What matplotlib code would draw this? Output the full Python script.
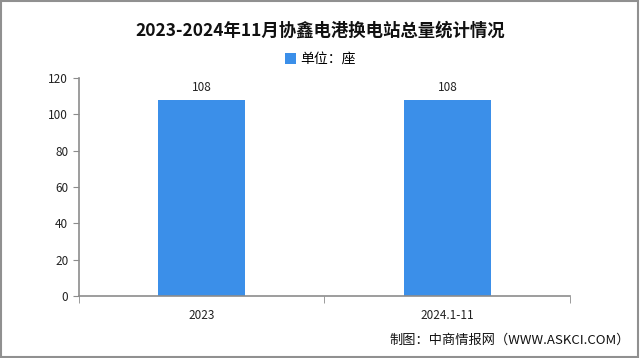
import matplotlib
matplotlib.use("Agg")
import matplotlib.pyplot as plt
from matplotlib.patches import Rectangle

plt.rcParams['font.family'] = ['Noto Sans CJK SC', 'DejaVu Sans']

categories = ['2023', '2024.1-11']
values = [108, 108]
yticks = [0, 20, 40, 60, 80, 100, 120]

title = '2023-2024年11月协鑫电港换电站总量统计情况'
legend_label = '单位：座'
source = '制图：中商情报网（WWW.ASKCI.COM）'

bar_color = '#3b8fe9'
axis_color = '#8c8c8c'

fig = plt.figure(figsize=(6.4, 3.58), dpi=100)
ax = fig.add_axes([0.123, 0.173, 0.768, 0.609])

x = list(range(len(categories)))
bars = ax.bar(x, values, width=0.355, color=bar_color, label=legend_label, zorder=2)
for xi, v in zip(x, values):
    ax.text(xi, v + 3, str(v), ha='center', va='bottom', fontsize=8.5, color='#222222')

ax.set_xlim(-0.5, len(categories) - 0.5)
ax.set_ylim(0, 120)
ax.set_yticks(yticks)
ax.tick_params(axis='y', labelsize=8.5, colors='#222222', length=4, color=axis_color)

# category labels centred, tick marks at the boundaries
ax.set_xticks(x)
ax.set_xticklabels(categories, fontsize=8.5, color='#222222')
ax.tick_params(axis='x', which='major', length=0, pad=9)
ax.set_xticks([i - 0.5 for i in range(len(categories) + 1)], minor=True)
ax.tick_params(axis='x', which='minor', length=5, color=axis_color)

for side in ['top', 'right']:
    ax.spines[side].set_visible(False)
for side in ['left', 'bottom']:
    ax.spines[side].set_color(axis_color)
    ax.spines[side].set_linewidth(1.2)

fig.text(0.5, 0.915, title, ha='center', va='center', fontsize=12.5, fontweight='bold', color='#111111')
fig.legend(handles=[bars], loc='center', bbox_to_anchor=(0.5, 0.835), frameon=False,
           fontsize=10, handlelength=0.8, handleheight=0.8, handletextpad=0.3)
fig.text(0.985, 0.05, source, ha='right', va='center', fontsize=9.5, color='#111111')

fig.patches.append(Rectangle((0.002, 0.003), 0.995, 0.993, transform=fig.transFigure,
                             fill=False, edgecolor='#909090', linewidth=1.5))

fig.savefig('out.png', dpi=100)
